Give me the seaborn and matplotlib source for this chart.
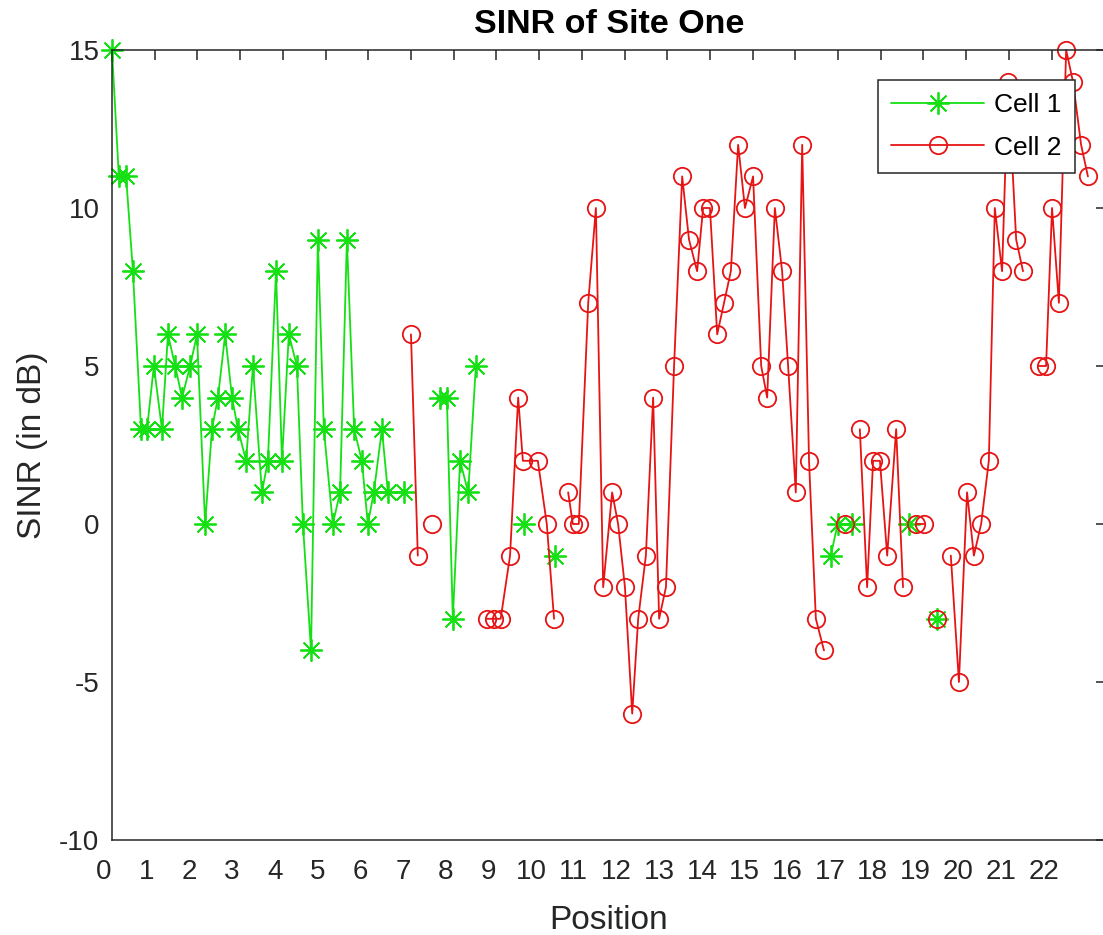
import numpy as np
import pandas as pd
import matplotlib
matplotlib.use("Agg")
import matplotlib.pyplot as plt
import matplotlib.transforms as mtransforms
import seaborn as sns

nan = np.nan

# ---- data (x position, SINR in dB); NaN marks a break in the line ----
cell1_x = [0.00, 0.16, 0.33, 0.49, 0.68, 0.82, 0.98, 1.17, 1.31, 1.48, 1.64, 1.83, 1.99, 2.18,
           2.34, 2.48, 2.65, 2.81, 2.95, 3.14, 3.30, 3.51, 3.65, 3.84, 3.98, 4.14, 4.33, 4.47,
           4.66, 4.82, 4.96, 5.17, 5.34, 5.50, 5.67, 5.85, 5.99, 6.13, 6.32, 6.46, 6.84, nan,
           7.68, 7.84, 7.98, 8.15, 8.34, 8.52, nan,
           9.65, nan,
           10.37, nan,
           16.83, 16.99, 17.33, nan,
           18.66, nan,
           19.32]
cell1_sinr = [15, 11, 11, 8, 3, 3, 5, 3, 6, 5, 4, 5, 6, 0,
              3, 4, 6, 4, 3, 2, 5, 1, 2, 8, 2, 6, 5, 0,
              -4, 9, 3, 0, 1, 9, 3, 2, 0, 1, 3, 1, 1, nan,
              4, 4, -3, 2, 1, 5, nan,
              0, nan,
              -1, nan,
              -1, 0, 0, nan,
              0, nan,
              -3]

cell2_x = [7.00, 7.16, nan,
           7.49, nan,
           8.78, 8.94, 9.10, 9.32, 9.51, 9.62, 9.97, 10.18, 10.35, nan,
           10.68, 10.79, 10.93, 11.15, 11.33, 11.50, 11.71, 11.85, 12.01, 12.18, 12.32, 12.50,
           12.67, 12.81, 12.97, 13.16, 13.35, 13.51, 13.70, 13.84, 14.00, 14.17, 14.33, 14.49,
           14.66, 14.82, 15.01, 15.20, 15.34, 15.52, 15.69, 15.83, 16.01, 16.16, 16.32, 16.48,
           16.67, nan,
           17.16, nan,
           17.51, 17.68, 17.82, 17.98, 18.15, 18.36, 18.52, nan,
           18.83, 19.02, nan,
           19.32, nan,
           19.64, 19.83, 20.02, 20.18, 20.35, 20.53, 20.67, 20.84, 20.98, 21.17, 21.33, nan,
           21.70, 21.87, 22.01, 22.17, 22.34, 22.50, 22.69, 22.85]
cell2_sinr = [6, -1, nan,
              0, nan,
              -3, -3, -3, -1, 4, 2, 2, 0, -3, nan,
              1, 0, 0, 7, 10, -2, 1, 0, -2, -6, -3, -1,
              4, -3, -2, 5, 11, 9, 8, 10, 10, 6, 7, 8,
              12, 10, 11, 5, 4, 10, 8, 5, 1, 12, 2, -3,
              -4, nan,
              0, nan,
              3, -2, 2, 2, -1, 3, -2, nan,
              0, 0, nan,
              -3, nan,
              -1, -5, 1, -1, 0, 2, 10, 8, 14, 9, 8, nan,
              5, 5, 10, 7, 15, 14, 12, 11]

x_ticks = list(range(0, 23))
y_ticks = [-10, -5, 0, 5, 10, 15]
series_names = ["Cell 1", "Cell 2"]


def to_frame(xs, ys):
    xs = np.asarray(xs, float)
    ys = np.asarray(ys, float)
    seg = np.cumsum(np.isnan(xs))
    df = pd.DataFrame({"x": xs, "sinr": ys, "seg": seg})
    return df.dropna()


df1 = to_frame(cell1_x, cell1_sinr)
df2 = to_frame(cell2_x, cell2_sinr)

sns.set_style("white")
plt.rcParams["font.family"] = ["Liberation Sans", "DejaVu Sans"]

W, H = 1103, 935
fig = plt.figure(figsize=(W / 100, H / 100), dpi=100)
ax_left, ax_right, ax_top, ax_bot = 112, 1106, 50, 840
ax = fig.add_axes([ax_left / W, (H - ax_bot) / H, (ax_right - ax_left) / W, (ax_bot - ax_top) / H])

green = "#14e014"
red = "#e61414"
dark = "#262626"

common = dict(x="x", y="sinr", units="seg", estimator=None, sort=False, ax=ax,
              linewidth=1.3, clip_on=False, markerfacecolor="none", legend=False)
sns.lineplot(data=df1, color=green, marker=(8, 2, 0), markersize=16,
             markeredgecolor=green, markeredgewidth=1.3, label=series_names[0], **common)
sns.lineplot(data=df2, color=red, marker="o", markersize=12.5,
             markeredgecolor=red, markeredgewidth=1.3, label=series_names[1], **common)

px_per_unit = 42.71
ax.set_xlim(0, (ax_right - ax_left) / px_per_unit)
ax.set_ylim(-10, 15)
ax.set_xticks(x_ticks)
ax.set_yticks(y_ticks)
ax.set_xticklabels([str(t) for t in x_ticks])
ax.set_yticklabels([str(t) for t in y_ticks])

ax.tick_params(axis="both", which="both", direction="in", top=True, right=True,
               length=7, width=1.1, color=dark, labelsize=20, labelcolor=dark)
ax.tick_params(axis="x", pad=14)
ax.tick_params(axis="y", pad=9)
for s in ax.spines.values():
    s.set_color(dark)
    s.set_linewidth(1.1)
    s.set_visible(True)

offset = mtransforms.ScaledTranslation(-0.08, 0, fig.dpi_scale_trans)
for lab in ax.get_xticklabels():
    lab.set_transform(lab.get_transform() + offset)

ax.set_xlabel("Position", fontsize=24, color=dark, labelpad=14)
ax.set_ylabel("SINR (in dB)", fontsize=24, color=dark, labelpad=8)
ax.set_title("SINR of Site One", fontsize=24.5, fontweight="bold", color="black", pad=12)

handles, labels = ax.get_legend_handles_labels()
seen = {}
for h, l in zip(handles, labels):
    if l not in seen:
        seen[l] = h
leg = ax.legend([seen[n] for n in series_names], series_names,
                loc="upper right", bbox_to_anchor=(1075 / W, (H - 80) / H),
                bbox_transform=fig.transFigure, fontsize=19, frameon=True,
                fancybox=False, framealpha=1, edgecolor=dark, borderaxespad=0,
                handlelength=3.5, handletextpad=0.4, labelspacing=0.7, borderpad=0.5)
leg.get_frame().set_linewidth(1.1)
for t in leg.get_texts():
    t.set_color("black")

fig.savefig("out.png", dpi=100)
